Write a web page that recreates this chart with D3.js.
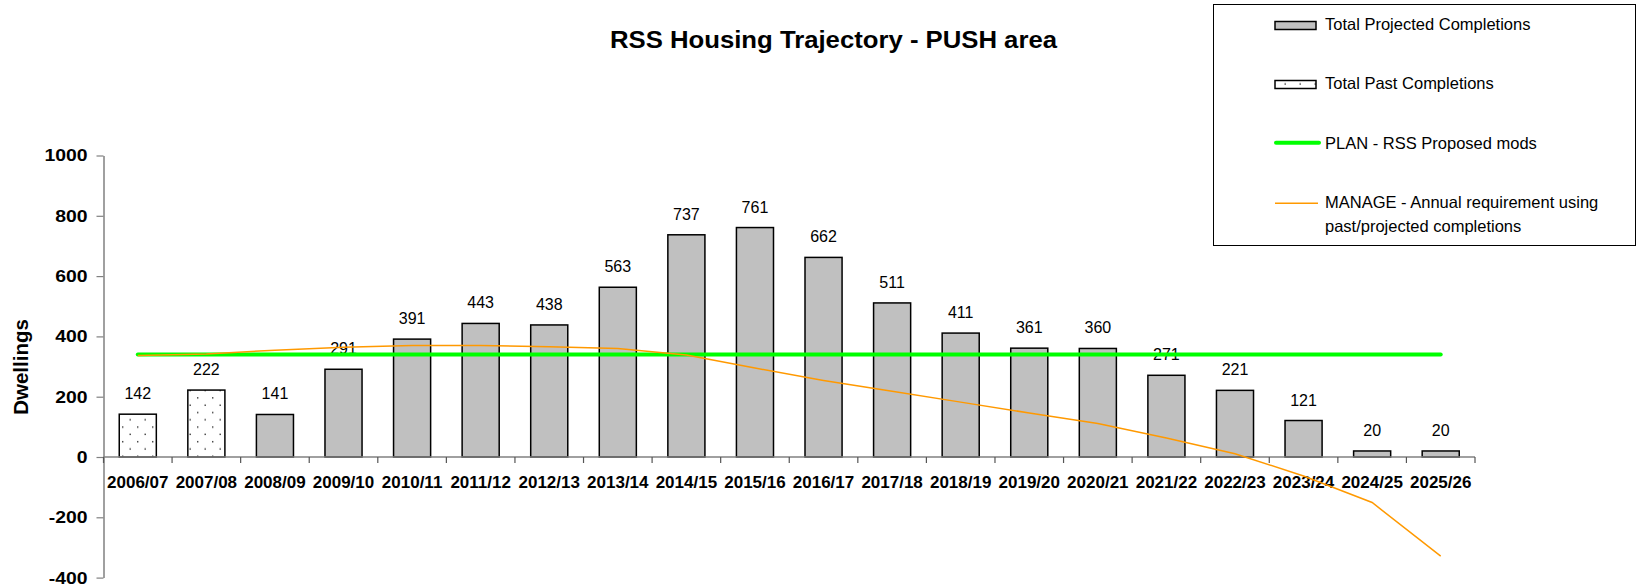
<!DOCTYPE html>
<meta charset="utf-8">
<style>
body { margin: 0; background: #fff; }
text { font-family: Arial, "Liberation Sans", sans-serif; }
.bar { fill: #c0c0c0; stroke: #000; stroke-width: 1.5; }
.past { fill: url(#dots); stroke: #000; stroke-width: 1.5; }
</style>
<body>
<script src="https://d3js.org/d3.v7.min.js"></script>
<script>

// chart data
var years = ["2006/07","2007/08","2008/09","2009/10","2010/11","2011/12","2012/13","2013/14","2014/15","2015/16",
             "2016/17","2017/18","2018/19","2019/20","2020/21","2021/22","2022/23","2023/24","2024/25","2025/26"];
var completions = [142,222,141,291,391,443,438,563,737,761,662,511,411,361,360,271,221,121,20,20];
var pastCount = 2; // first two years are past completions
var plan = 340;
var manage = [337,342,354,364,370,370,366,360,338,295,254,218,182,146,111,63,11,-63,-151,-329];
var yTicks = [-400,-200,0,200,400,600,800,1000];

var W = 1647, H = 588;
var svg = d3.select("body").append("svg")
    .attr("width", W)
    .attr("height", H);

// dotted fill for past completions
var pat = svg.append("defs").append("pattern")
    .attr("id", "dots")
    .attr("patternUnits", "userSpaceOnUse")
    .attr("width", 15).attr("height", 14.6);
pat.append("rect").attr("width", 15).attr("height", 14.6).attr("fill", "#fff");
pat.append("rect").attr("x", 2).attr("y", 3).attr("width", 1.4).attr("height", 1.4).attr("fill", "#333");
pat.append("rect").attr("x", 9.5).attr("y", 10.3).attr("width", 1.4).attr("height", 1.4).attr("fill", "#333");

// scales
var x = d3.scaleBand().domain(years).range([103.5, 1475]).padding(0);
var y = d3.scaleLinear().domain([-400, 1000]).range([577.6, 155.5]);
var barW = x.bandwidth() / 1.85;

// title (glyphs in the original are a little stretched sideways)
svg.append("text")
    .attr("x", 833.5).attr("y", 48)
    .attr("text-anchor", "middle")
    .attr("textLength", 447).attr("lengthAdjust", "spacingAndGlyphs")
    .style("font-size", "23.5px").style("font-weight", "bold")
    .text("RSS Housing Trajectory - PUSH area");

// y axis
var yAxis = svg.append("g")
    .attr("transform", "translate(103.5,0)")
    .call(d3.axisLeft(y).tickValues(yTicks).tickSize(7).tickSizeOuter(0).tickPadding(9).tickFormat(function(d) { return d; }));
yAxis.select(".domain").attr("stroke", "#808080").attr("stroke-width", 1.5);
yAxis.selectAll(".tick line").attr("stroke", "#808080").attr("stroke-width", 1.2);
yAxis.selectAll(".tick text")
    .style("font-size", "17px").style("font-weight", "bold")
    .attr("font-family", null).attr("fill", "#000")
    .each(function() {
      var w = this.getComputedTextLength();
      d3.select(this).attr("textLength", w * 1.14).attr("lengthAdjust", "spacingAndGlyphs");
    });

svg.append("text")
    .attr("transform", "translate(28," + 367 + ") rotate(-90)")
    .attr("text-anchor", "middle")
    .style("font-size", "20.5px").style("font-weight", "bold")
    .text("Dwellings");

// bars
svg.selectAll(".b")
    .data(completions)
  .enter().append("rect")
    .attr("class", function(d, i) { return i < pastCount ? "past" : "bar"; })
    .attr("x", function(d, i) { return x(years[i]) + (x.bandwidth() - barW) / 2; })
    .attr("width", barW)
    .attr("y", function(d) { return y(d); })
    .attr("height", function(d) { return y(0) - y(d); });

// x axis line at zero, ticks on category edges
var edges = years.map(function(c) { return x(c); }).concat([x.range()[1]]);
svg.append("line")
    .attr("x1", x.range()[0]).attr("x2", x.range()[1])
    .attr("y1", y(0)).attr("y2", y(0))
    .attr("stroke", "#808080").attr("stroke-width", 1.5);
svg.selectAll(".xt")
    .data(edges)
  .enter().append("line")
    .attr("x1", function(d) { return d; }).attr("x2", function(d) { return d; })
    .attr("y1", y(0)).attr("y2", y(0) + 6)
    .attr("stroke", "#555").attr("stroke-width", 1.2);
svg.selectAll(".xl")
    .data(years)
  .enter().append("text")
    .attr("x", function(d) { return x(d) + x.bandwidth() / 2; })
    .attr("y", 488)
    .attr("text-anchor", "middle")
    .style("font-size", "17px").style("font-weight", "bold")
    .text(function(d) { return d; });

// value labels
svg.selectAll(".vl")
    .data(completions)
  .enter().append("text")
    .attr("x", function(d, i) { return x(years[i]) + x.bandwidth() / 2; })
    .attr("y", function(d) { return y(d) - 15; })
    .attr("text-anchor", "middle")
    .style("font-size", "16px")
    .text(function(d) { return d; });

// plan line
svg.append("line")
    .attr("x1", x(years[0]) + x.bandwidth() / 2)
    .attr("x2", x(years[years.length - 1]) + x.bandwidth() / 2)
    .attr("y1", y(plan)).attr("y2", y(plan))
    .attr("stroke", "#00ff00").attr("stroke-width", 4).attr("stroke-linecap", "round");

// manage line
var line = d3.line()
    .x(function(d, i) { return x(years[i]) + x.bandwidth() / 2; })
    .y(function(d) { return y(d); });
svg.append("path")
    .datum(manage)
    .attr("d", line)
    .attr("fill", "none")
    .attr("stroke", "#ff9900").attr("stroke-width", 1.5);

// legend
var lg = svg.append("g");
lg.append("rect")
    .attr("x", 1213.5).attr("y", 4.5).attr("width", 422).attr("height", 241)
    .attr("fill", "#fff").attr("stroke", "#000").attr("stroke-width", 1);
lg.append("rect").attr("class", "bar")
    .attr("x", 1275).attr("y", 21.5).attr("width", 41).attr("height", 8).attr("stroke-width", 1.2);
lg.append("rect").attr("class", "past")
    .attr("x", 1275).attr("y", 80.5).attr("width", 41).attr("height", 8).attr("stroke-width", 1.2);
lg.append("line")
    .attr("x1", 1276).attr("x2", 1319).attr("y1", 142.7).attr("y2", 142.7)
    .attr("stroke", "#00ff00").attr("stroke-width", 4).attr("stroke-linecap", "round");
lg.append("line")
    .attr("x1", 1275).attr("x2", 1318).attr("y1", 203.3).attr("y2", 203.3)
    .attr("stroke", "#ff9900").attr("stroke-width", 1.5);
var legendText = [
  ["Total Projected Completions", 30],
  ["Total Past Completions", 89],
  ["PLAN - RSS Proposed mods", 149],
  ["MANAGE - Annual requirement using", 208],
  ["past/projected completions", 232]
];
lg.selectAll(".lt")
    .data(legendText)
  .enter().append("text")
    .attr("x", 1325).attr("y", function(d) { return d[1]; })
    .style("font-size", "16.5px")
    .text(function(d) { return d[0]; });

</script>
</body>
